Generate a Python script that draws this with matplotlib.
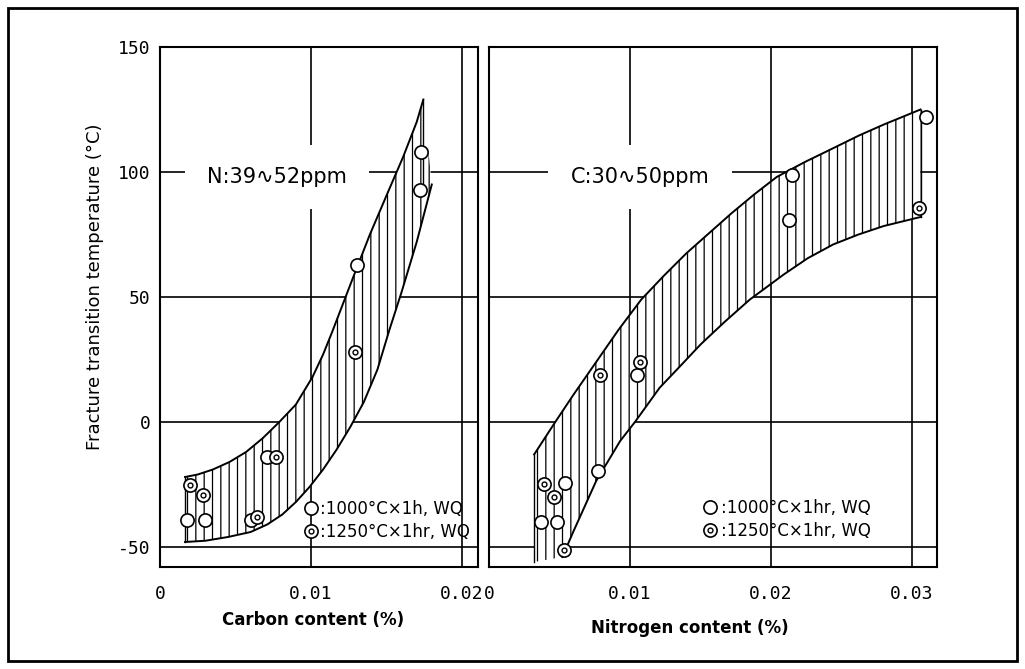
import matplotlib

matplotlib.use("Agg")
import matplotlib.pyplot as plt
import numpy as np
from matplotlib.legend_handler import HandlerTuple
from matplotlib.lines import Line2D
from matplotlib.patches import Rectangle

# ---- left panel: carbon content, N 39~52 ppm ----
C_UPPER_X = [0.00166, 0.0025, 0.0035, 0.0046, 0.0057, 0.0068, 0.0079, 0.0090, 0.0101, 0.0108,
             0.0114, 0.0121, 0.0128, 0.0139, 0.0151, 0.0161, 0.0170, 0.01744]
C_UPPER_Y = [-22, -21, -19, -16, -12, -6.5, 0, 7, 18, 27, 36, 47, 58, 75, 92, 106, 120, 129]
C_LOWER_X = [0.00166, 0.0030, 0.0045, 0.0060, 0.0071, 0.0081, 0.0090, 0.0099, 0.0108, 0.0117,
             0.0126, 0.0135, 0.0144, 0.0152, 0.0160, 0.0170, 0.0180]
C_LOWER_Y = [-48, -47.5, -46, -44, -41, -37, -32, -26, -19, -11, -2, 8, 21, 37, 52, 72, 95]
C_OPEN_X = [0.0018, 0.0030, 0.0060, 0.0071, 0.01307, 0.01726, 0.0172]
C_OPEN_Y = [-39, -39, -39, -14, 63, 108, 93]
C_DBL_X = [0.0020, 0.00287, 0.0064, 0.0077, 0.0129]
C_DBL_Y = [-25, -29, -38, -14, 28]

# ---- right panel: nitrogen content, C 30~50 ppm ----
N_UPPER_X = [0.0032, 0.0047, 0.0060, 0.0076, 0.0092, 0.0108, 0.0124, 0.0140, 0.0156, 0.0172,
             0.0188, 0.0204, 0.0224, 0.0244, 0.0262, 0.0280, 0.0306]
N_UPPER_Y = [-13, 0, 11, 24, 37, 49, 58.5, 67.5, 75.5, 83.5, 91, 98, 104, 109.5, 114.5, 119, 125]
# first point is the foot of the hatched band on the bottom line (no curve there)
N_LOWER_X = [0.0032, 0.0052, 0.0060, 0.0076, 0.0093, 0.01035, 0.0121, 0.0135, 0.0150, 0.0167,
             0.0185, 0.0209, 0.0226, 0.0244, 0.0262, 0.0280, 0.0306]
N_LOWER_Y = [-56, -54, -43.6, -23.6, -7.6, 0, 13.7, 22, 31, 40, 49, 59, 65.5, 71, 75, 78.4, 82]
N_OPEN_X = [0.0037, 0.0048, 0.0054, 0.0077, 0.0105, 0.0213, 0.0215, 0.0310]
N_OPEN_Y = [-40, -40, -24.5, -19.6, 18.8, 81, 99, 122]
N_DBL_X = [0.0039, 0.0046, 0.0053, 0.0079, 0.0107, 0.0305]
N_DBL_Y = [-24.7, -30, -51, 19, 24, 85.5]

Y_TICKS = [-50, 0, 50, 100, 150]
C_TICKS = [0, 0.01, 0.02]
C_TICK_LABELS = ["0", "0.01", "0.02"]
N_TICKS = [0, 0.01, 0.02, 0.03]
N_TICK_LABELS = ["0", "0.01", "0.02", "0.03"]

plt.rcParams["axes.unicode_minus"] = False
plt.rcParams["hatch.linewidth"] = 0.9
plt.rcParams["font.family"] = "DejaVu Sans"

W, H = 1025, 669
fig = plt.figure(figsize=(W / 100, H / 100), dpi=100)
ax_c = fig.add_axes([160 / W, 102 / H, 318 / W, 520 / H])
ax_n = fig.add_axes([489 / W, 102 / H, 448 / W, 520 / H])

# frame round the whole picture
fig.patches.append(Rectangle((8 / W, 8 / H), 1009 / W, 653 / H, transform=fig.transFigure,
                             fill=False, ec="k", lw=2))


def panel(ax, ux, uy, lx, ly, lstart, ox, oy, dx, dy, ticks, tlabels, xmax):
    ax.set_xlim(0, xmax)
    ax.set_ylim(-58, 150)
    ax.set_yticks(Y_TICKS)
    ax.set_xticks(ticks, tlabels)
    ax.grid(True, color="k", lw=1.2)
    ax.set_axisbelow(True)
    for s in ax.spines.values():
        s.set_linewidth(1.5)
    ax.tick_params(length=0, labelsize=13, pad=7)
    ax.tick_params(axis="x", pad=13)
    for t in ax.get_xticklabels() + ax.get_yticklabels():
        t.set_family("DejaVu Sans Mono")

    # hatched scatter band
    ax.fill(np.r_[ux, lx[::-1]], np.r_[uy, ly[::-1]], facecolor="white",
            edgecolor="k", hatch="||", lw=0, zorder=2)
    ax.plot(ux, uy, color="k", lw=1.4, zorder=3)
    ax.plot(lx[lstart:], ly[lstart:], color="k", lw=1.4, zorder=3)
    ax.plot([ux[0], ux[0]], [uy[0], ly[0]], color="k", lw=1.0, zorder=3)
    ax.plot([ux[-1], ux[-1]], [uy[-1], ly[-1]], color="k", lw=1.0, zorder=3)

    ax.plot(ox, oy, "o", ms=9.5, mfc="white", mec="k", mew=1.2, ls="none", zorder=4)
    ax.plot(dx, dy, "o", ms=9.5, mfc="white", mec="k", mew=1.2, ls="none", zorder=4)
    ax.plot(dx, dy, "o", ms=3.5, mfc="white", mec="k", mew=1.0, ls="none", zorder=5)


panel(ax_c, C_UPPER_X, C_UPPER_Y, C_LOWER_X, C_LOWER_Y, 0, C_OPEN_X, C_OPEN_Y,
      C_DBL_X, C_DBL_Y, C_TICKS, C_TICK_LABELS, 0.02106)
panel(ax_n, N_UPPER_X, N_UPPER_Y, N_LOWER_X, N_LOWER_Y, 1, N_OPEN_X, N_OPEN_Y,
      N_DBL_X, N_DBL_Y, N_TICKS, N_TICK_LABELS, 0.03177)
ax_n.tick_params(axis="y", labelleft=False)

note_box = dict(fc="white", ec="none", pad=16)
ax_c.text(0.00775, 98, "N:39∿52ppm", ha="center", va="center", fontsize=15,
          bbox=note_box, zorder=1.5)
ax_n.text(0.0107, 98, "C:30∿50ppm", ha="center", va="center", fontsize=15,
          bbox=note_box, zorder=1.5)

ax_c.set_ylabel("Fracture transition temperature (°C)", fontsize=13, va="center")
ax_c.yaxis.set_label_coords(-0.204, 0.538)
ax_c.set_xlabel("Carbon content (%)", fontsize=12, fontweight="bold", va="center")
ax_c.xaxis.set_label_coords(0.481, -0.102)
ax_n.set_xlabel("Nitrogen content (%)", fontsize=12, fontweight="bold", va="center")
ax_n.xaxis.set_label_coords(0.449, -0.117)

h_open = Line2D([], [], marker="o", ms=9.5, mfc="white", mec="k", mew=1.2, ls="none")
h_out = Line2D([], [], marker="o", ms=9.5, mfc="white", mec="k", mew=1.2, ls="none")
h_in = Line2D([], [], marker="o", ms=3.5, mfc="white", mec="k", mew=1.0, ls="none")
hmap = {tuple: HandlerTuple(ndivide=1)}
ax_c.legend([h_open, (h_out, h_in)], [":1000°C×1h, WQ", ":1250°C×1hr, WQ"],
            handler_map=hmap, loc="lower left", bbox_to_anchor=(0.455, 0.05),
            frameon=False, fontsize=12, handlelength=0.8, handletextpad=0.1,
            labelspacing=0.3, borderpad=0, borderaxespad=0)
ax_n.legend([h_open, (h_out, h_in)], [":1000°C×1hr, WQ", ":1250°C×1hr, WQ"],
            handler_map=hmap, loc="lower left", bbox_to_anchor=(0.478, 0.052),
            frameon=False, fontsize=12, handlelength=0.8, handletextpad=0.3,
            labelspacing=0.3, borderpad=0, borderaxespad=0)

fig.savefig("out.png", dpi=100)
